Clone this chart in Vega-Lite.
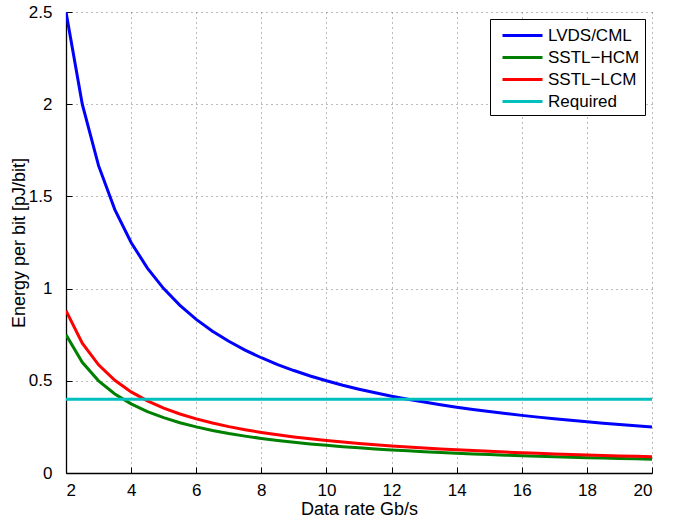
{
  "$schema": "https://vega.github.io/schema/vega-lite/v6.json",
  "width": 586,
  "height": 461,
  "autosize": "none",
  "padding": {"left": 66, "top": 12, "right": 37, "bottom": 50},
  "background": "white",
  "config": {
    "font": "Liberation Sans",
    "view": {"stroke": null}
  },
  "data": {
    "values": [
      {"x": 2, "s": "LVDS/CML", "y": 2.5}, {"x": 2.5, "s": "LVDS/CML", "y": 2.0}, {"x": 3, "s": "LVDS/CML", "y": 1.6667}, {"x": 3.5, "s": "LVDS/CML", "y": 1.4286},
      {"x": 4, "s": "LVDS/CML", "y": 1.25}, {"x": 4.5, "s": "LVDS/CML", "y": 1.1111}, {"x": 5, "s": "LVDS/CML", "y": 1.0}, {"x": 5.5, "s": "LVDS/CML", "y": 0.9091},
      {"x": 6, "s": "LVDS/CML", "y": 0.8333}, {"x": 6.5, "s": "LVDS/CML", "y": 0.7692}, {"x": 7, "s": "LVDS/CML", "y": 0.7143}, {"x": 7.5, "s": "LVDS/CML", "y": 0.6667},
      {"x": 8, "s": "LVDS/CML", "y": 0.625}, {"x": 8.5, "s": "LVDS/CML", "y": 0.5882}, {"x": 9, "s": "LVDS/CML", "y": 0.5556}, {"x": 9.5, "s": "LVDS/CML", "y": 0.5263},
      {"x": 10, "s": "LVDS/CML", "y": 0.5}, {"x": 10.5, "s": "LVDS/CML", "y": 0.4762}, {"x": 11, "s": "LVDS/CML", "y": 0.4545}, {"x": 11.5, "s": "LVDS/CML", "y": 0.4348},
      {"x": 12, "s": "LVDS/CML", "y": 0.4167}, {"x": 12.5, "s": "LVDS/CML", "y": 0.4}, {"x": 13, "s": "LVDS/CML", "y": 0.3846}, {"x": 13.5, "s": "LVDS/CML", "y": 0.3704},
      {"x": 14, "s": "LVDS/CML", "y": 0.3571}, {"x": 14.5, "s": "LVDS/CML", "y": 0.3448}, {"x": 15, "s": "LVDS/CML", "y": 0.3333}, {"x": 15.5, "s": "LVDS/CML", "y": 0.3226},
      {"x": 16, "s": "LVDS/CML", "y": 0.3125}, {"x": 16.5, "s": "LVDS/CML", "y": 0.303}, {"x": 17, "s": "LVDS/CML", "y": 0.2941}, {"x": 17.5, "s": "LVDS/CML", "y": 0.2857},
      {"x": 18, "s": "LVDS/CML", "y": 0.2778}, {"x": 18.5, "s": "LVDS/CML", "y": 0.2703}, {"x": 19, "s": "LVDS/CML", "y": 0.2632}, {"x": 19.5, "s": "LVDS/CML", "y": 0.2564},
      {"x": 20, "s": "LVDS/CML", "y": 0.25},
      {"x": 2, "s": "SSTL−HCM", "y": 0.75}, {"x": 2.5, "s": "SSTL−HCM", "y": 0.6}, {"x": 3, "s": "SSTL−HCM", "y": 0.5}, {"x": 3.5, "s": "SSTL−HCM", "y": 0.4286},
      {"x": 4, "s": "SSTL−HCM", "y": 0.375}, {"x": 4.5, "s": "SSTL−HCM", "y": 0.3333}, {"x": 5, "s": "SSTL−HCM", "y": 0.3}, {"x": 5.5, "s": "SSTL−HCM", "y": 0.2727},
      {"x": 6, "s": "SSTL−HCM", "y": 0.25}, {"x": 6.5, "s": "SSTL−HCM", "y": 0.2308}, {"x": 7, "s": "SSTL−HCM", "y": 0.2143}, {"x": 7.5, "s": "SSTL−HCM", "y": 0.2},
      {"x": 8, "s": "SSTL−HCM", "y": 0.1875}, {"x": 8.5, "s": "SSTL−HCM", "y": 0.1765}, {"x": 9, "s": "SSTL−HCM", "y": 0.1667}, {"x": 9.5, "s": "SSTL−HCM", "y": 0.1579},
      {"x": 10, "s": "SSTL−HCM", "y": 0.15}, {"x": 10.5, "s": "SSTL−HCM", "y": 0.1429}, {"x": 11, "s": "SSTL−HCM", "y": 0.1364}, {"x": 11.5, "s": "SSTL−HCM", "y": 0.1304},
      {"x": 12, "s": "SSTL−HCM", "y": 0.125}, {"x": 12.5, "s": "SSTL−HCM", "y": 0.12}, {"x": 13, "s": "SSTL−HCM", "y": 0.1154}, {"x": 13.5, "s": "SSTL−HCM", "y": 0.1111},
      {"x": 14, "s": "SSTL−HCM", "y": 0.1071}, {"x": 14.5, "s": "SSTL−HCM", "y": 0.1034}, {"x": 15, "s": "SSTL−HCM", "y": 0.1}, {"x": 15.5, "s": "SSTL−HCM", "y": 0.0968},
      {"x": 16, "s": "SSTL−HCM", "y": 0.0938}, {"x": 16.5, "s": "SSTL−HCM", "y": 0.0909}, {"x": 17, "s": "SSTL−HCM", "y": 0.0882}, {"x": 17.5, "s": "SSTL−HCM", "y": 0.0857},
      {"x": 18, "s": "SSTL−HCM", "y": 0.0833}, {"x": 18.5, "s": "SSTL−HCM", "y": 0.0811}, {"x": 19, "s": "SSTL−HCM", "y": 0.0789}, {"x": 19.5, "s": "SSTL−HCM", "y": 0.0769},
      {"x": 20, "s": "SSTL−HCM", "y": 0.075},
      {"x": 2, "s": "SSTL−LCM", "y": 0.88}, {"x": 2.5, "s": "SSTL−LCM", "y": 0.704}, {"x": 3, "s": "SSTL−LCM", "y": 0.5867}, {"x": 3.5, "s": "SSTL−LCM", "y": 0.5029},
      {"x": 4, "s": "SSTL−LCM", "y": 0.44}, {"x": 4.5, "s": "SSTL−LCM", "y": 0.3911}, {"x": 5, "s": "SSTL−LCM", "y": 0.352}, {"x": 5.5, "s": "SSTL−LCM", "y": 0.32},
      {"x": 6, "s": "SSTL−LCM", "y": 0.2933}, {"x": 6.5, "s": "SSTL−LCM", "y": 0.2708}, {"x": 7, "s": "SSTL−LCM", "y": 0.2514}, {"x": 7.5, "s": "SSTL−LCM", "y": 0.2347},
      {"x": 8, "s": "SSTL−LCM", "y": 0.22}, {"x": 8.5, "s": "SSTL−LCM", "y": 0.2071}, {"x": 9, "s": "SSTL−LCM", "y": 0.1956}, {"x": 9.5, "s": "SSTL−LCM", "y": 0.1853},
      {"x": 10, "s": "SSTL−LCM", "y": 0.176}, {"x": 10.5, "s": "SSTL−LCM", "y": 0.1676}, {"x": 11, "s": "SSTL−LCM", "y": 0.16}, {"x": 11.5, "s": "SSTL−LCM", "y": 0.153},
      {"x": 12, "s": "SSTL−LCM", "y": 0.1467}, {"x": 12.5, "s": "SSTL−LCM", "y": 0.1408}, {"x": 13, "s": "SSTL−LCM", "y": 0.1354}, {"x": 13.5, "s": "SSTL−LCM", "y": 0.1304},
      {"x": 14, "s": "SSTL−LCM", "y": 0.1257}, {"x": 14.5, "s": "SSTL−LCM", "y": 0.1214}, {"x": 15, "s": "SSTL−LCM", "y": 0.1173}, {"x": 15.5, "s": "SSTL−LCM", "y": 0.1135},
      {"x": 16, "s": "SSTL−LCM", "y": 0.11}, {"x": 16.5, "s": "SSTL−LCM", "y": 0.1067}, {"x": 17, "s": "SSTL−LCM", "y": 0.1035}, {"x": 17.5, "s": "SSTL−LCM", "y": 0.1006},
      {"x": 18, "s": "SSTL−LCM", "y": 0.0978}, {"x": 18.5, "s": "SSTL−LCM", "y": 0.0951}, {"x": 19, "s": "SSTL−LCM", "y": 0.0926}, {"x": 19.5, "s": "SSTL−LCM", "y": 0.0903},
      {"x": 20, "s": "SSTL−LCM", "y": 0.088},
      {"x": 2, "s": "Required", "y": 0.4}, {"x": 20, "s": "Required", "y": 0.4}
    ]
  },
  "mark": {"type": "line", "strokeWidth": 3, "clip": true},
  "encoding": {
    "x": {
      "field": "x", "type": "quantitative",
      "scale": {"domain": [2, 20], "nice": false, "zero": false},
      "axis": {
        "title": "Data rate Gb/s", "values": [2, 4, 6, 8, 10, 12, 14, 16, 18, 20],
        "titleFontSize": 18, "titleFontWeight": "normal", "titleColor": "black", "titlePadding": 2,
        "labelFontSize": 17, "labelColor": "black", "labelPadding": 15,
        "tickSize": -6, "tickColor": "black", "domainColor": "black", "domainWidth": 1.3,
        "grid": true, "gridDash": [1, 4], "gridColor": "#777777", "gridOpacity": 1
      }
    },
    "y": {
      "field": "y", "type": "quantitative",
      "scale": {"domain": [0, 2.5], "nice": false},
      "axis": {
        "title": "Energy per bit [pJ/bit]", "values": [0, 0.5, 1, 1.5, 2, 2.5], "format": "~g",
        "titleFontSize": 18, "titleFontWeight": "normal", "titleColor": "black", "titlePadding": 0,
        "labelFontSize": 17, "labelColor": "black", "labelPadding": 20,
        "tickSize": -6, "tickColor": "black", "domainColor": "black", "domainWidth": 1.3,
        "grid": true, "gridDash": [1, 4], "gridColor": "#777777", "gridOpacity": 1
      }
    },
    "color": {
      "field": "s", "type": "nominal",
      "scale": {
        "domain": ["LVDS/CML", "SSTL−HCM", "SSTL−LCM", "Required"],
        "range": ["#0000ff", "#008000", "#ff0000", "#00bfbf"]
      },
      "legend": {
        "title": null, "orient": "top-right", "offset": 7,
        "fillColor": "white", "strokeColor": "black",
        "padding": 5, "symbolType": "M-2,0H2", "symbolSize": 400, "symbolStrokeWidth": 3,
        "symbolOffset": 16,
        "labelFontSize": 17, "labelColor": "black", "labelOffset": 14, "rowPadding": 2
      }
    }
  }
}
